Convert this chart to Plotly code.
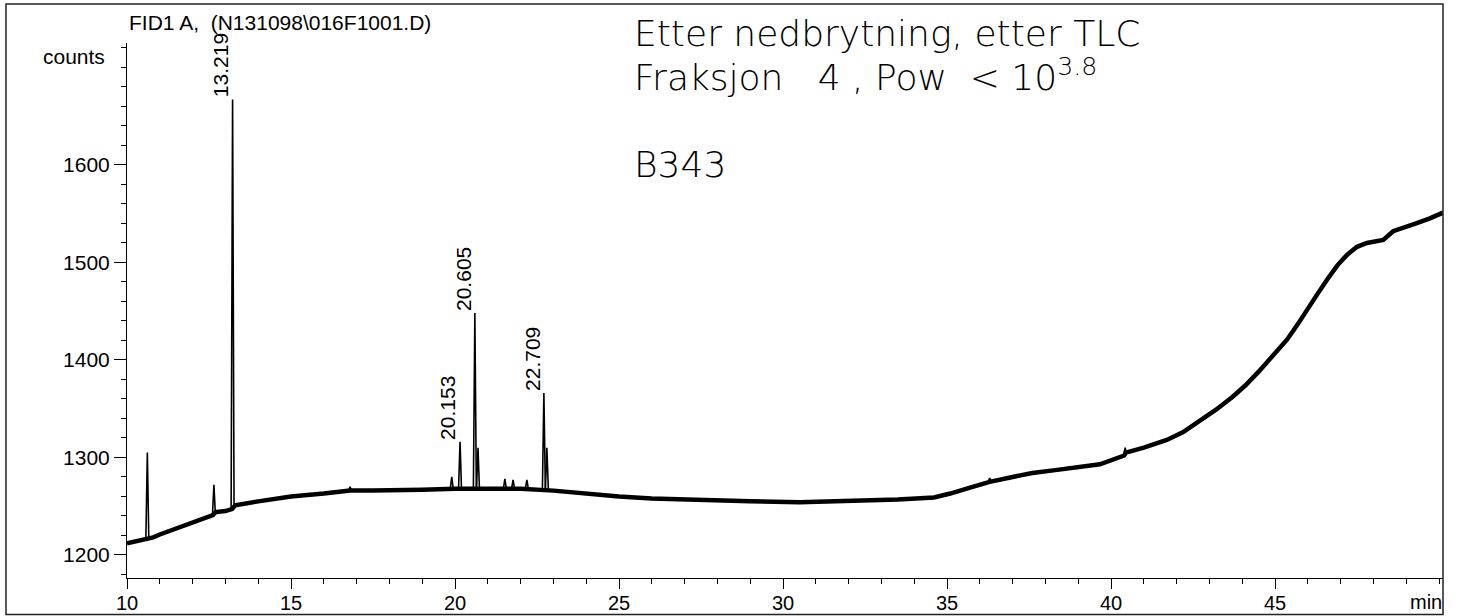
import plotly.graph_objects as go

# ---------------- data ----------------
base_time = [10.0, 10.3, 10.5, 10.6, 10.8, 11.0, 11.5, 12.0, 12.5, 12.62, 12.7, 13.0, 13.2,
             13.3, 14.0, 15.0, 16.0, 16.8, 17.5, 18.0, 19.0, 20.0, 21.0, 22.0, 23.0,
             24.0, 24.4, 25.0, 26.0, 27.5, 29.0, 30.5, 32.0, 33.5, 34.6, 35.1, 35.7,
             36.3, 37.0, 37.6, 38.3, 39.0, 39.66, 40.4, 40.45, 41.0, 41.7, 42.2, 42.7,
             43.2, 43.7, 44.1, 44.5, 44.9, 45.37, 45.7, 45.98, 46.3, 46.6, 46.9, 47.2,
             47.5, 47.8, 48.1, 48.3, 48.6, 49.0, 49.3, 49.7, 50.12]
base_counts = [1212, 1214, 1216, 1216, 1218, 1221, 1227, 1233, 1240, 1241, 1244, 1245, 1247,
               1251, 1255, 1260, 1263, 1266, 1266, 1266, 1267, 1268, 1268, 1268, 1266,
               1263, 1261, 1260, 1258, 1256, 1255, 1254, 1255, 1257, 1259, 1263, 1269,
               1275, 1280, 1284, 1287, 1290, 1293, 1302, 1305, 1310, 1318, 1326, 1337,
               1349, 1362, 1374, 1388, 1403, 1421, 1437, 1452, 1468, 1483, 1497, 1508,
               1516, 1520, 1522, 1523, 1532, 1536, 1540, 1545, 1551]

peak_time = [10.62, 12.65, 13.219, 16.8, 19.9, 20.153, 20.605, 20.70, 21.52, 21.77,
             22.19, 22.709, 22.80, 36.3, 40.43]
peak_apex = [1305, 1272, 1667, 1270, 1280, 1316, 1448, 1310, 1278, 1277,
             1277, 1366, 1310, 1279, 1310]
peak_base = [1216, 1241, 1248, 1266, 1268, 1268, 1268, 1268, 1268, 1268,
             1268, 1267, 1267, 1275, 1303]
peak_label = ["", "", "13.219", "", "", "20.153", "20.605", "", "", "",
              "", "22.709", "", "", ""]

x_tick_vals = [10, 15, 20, 25, 30, 35, 40, 45]
x_tick_text = ["10", "15", "20", "25", "30", "35", "40", "45"]
y_tick_vals = [1200, 1300, 1400, 1500, 1600]
y_tick_text = ["1200", "1300", "1400", "1500", "1600"]

title_text = "FID1 A,&nbsp;&nbsp;(N131098\\016F1001.D)"
note_lines = ["Etter nedbrytning, etter TLC",
              "Fraksjon&nbsp;&nbsp;&nbsp;4&nbsp;,&nbsp;Pow&nbsp;&nbsp;&lt; 10<sup>3.8</sup>",
              "B343"]

# ---------------- layout geometry (pixels) ----------------
W, H = 1458, 616
ML, MR, MT, MB = 127, 15, 43, 38
PW, PH = W - ML - MR, H - MT - MB


def px(x):
    return (x - ML) / PW


def py(y):
    return (H - MB - y) / PH


FONT = "Liberation Sans, Arial, sans-serif"
HAND = "DejaVu Sans, sans-serif"

fig = go.Figure()

fig.add_trace(go.Scatter(x=base_time, y=base_counts, mode="lines",
                         line=dict(color="black", width=4.5), hoverinfo="skip",
                         showlegend=False))

HW = 0.045
sx, sy = [], []
for t, a, b in zip(peak_time, peak_apex, peak_base):
    sx += [t - HW, t, t + HW, None]
    sy += [b, a, b, None]
fig.add_trace(go.Scatter(x=sx, y=sy, mode="lines",
                         line=dict(color="black", width=1.6), hoverinfo="skip",
                         showlegend=False))

annotations = []
for t, a, lab in zip(peak_time, peak_apex, peak_label):
    if lab:
        annotations.append(dict(x=t, y=a, xref="x", yref="y", text=lab, textangle=-90,
                                showarrow=False, xanchor="center", yanchor="bottom",
                                xshift=-12, yshift=0,
                                font=dict(family=FONT, size=21, color="black")))

# x-axis tick labels (placed between the axis line and the outer frame)
for v, s in zip(x_tick_vals, x_tick_text):
    annotations.append(dict(x=v, y=py(603), xref="x", yref="paper", text=s,
                            showarrow=False, xanchor="center", yanchor="middle",
                            font=dict(family=FONT, size=20, color="black")))

annotations.append(dict(x=px(127), y=py(23), xref="paper", yref="paper", text=title_text,
                        showarrow=False, xanchor="left", yanchor="middle",
                        font=dict(family=FONT, size=21, color="black")))
annotations.append(dict(x=px(107), y=py(57), xref="paper", yref="paper", text="counts",
                        showarrow=False, xanchor="right", yanchor="middle",
                        font=dict(family=FONT, size=21, color="black")))
annotations.append(dict(x=px(1444), y=py(602), xref="paper", yref="paper", text="min",
                        showarrow=False, xanchor="right", yanchor="middle",
                        font=dict(family=FONT, size=20, color="black")))

for txt, yc in zip(note_lines, [33, 75, 164]):
    annotations.append(dict(x=px(632), y=py(yc), xref="paper", yref="paper", text=txt,
                            showarrow=False, xanchor="left", yanchor="middle",
                            font=dict(family=HAND, size=36, color="black", weight=200)))

shapes = [dict(type="rect", xref="paper", yref="paper",
               x0=px(6), x1=px(1443), y0=py(614.5), y1=py(4),
               line=dict(color="#222222", width=1.5), fillcolor="rgba(0,0,0,0)")]

fig.update_layout(
    width=W, height=H,
    margin=dict(l=ML, r=MR, t=MT, b=MB, pad=0, autoexpand=False),
    paper_bgcolor="white", plot_bgcolor="white",
    showlegend=False,
    annotations=annotations, shapes=shapes,
    font=dict(family=FONT, size=21, color="black"),
)

fig.update_xaxes(range=[10, 50.12], tickmode="array", tickvals=x_tick_vals,
                 showticklabels=False, ticks="outside", ticklen=10, tickwidth=1,
                 tickcolor="black", showline=True, linecolor="black", linewidth=1,
                 showgrid=False, zeroline=False, automargin=False,
                 minor=dict(tickmode="linear", tick0=10, dtick=1, ticks="outside",
                            ticklen=5, tickcolor="black", showgrid=False))
fig.update_yaxes(range=[1176.4, 1725], tickmode="array", tickvals=y_tick_vals,
                 ticktext=y_tick_text, ticks="outside", ticklen=12, tickwidth=1,
                 tickcolor="black", showline=True, linecolor="black", linewidth=1,
                 showgrid=False, zeroline=False, automargin=False,
                 tickfont=dict(family=FONT, size=21, color="black"),
                 minor=dict(tickmode="linear", tick0=1200, dtick=20, ticks="outside",
                            ticklen=5, tickcolor="black", showgrid=False))

fig.write_html("out.html", config={"responsive": False})
